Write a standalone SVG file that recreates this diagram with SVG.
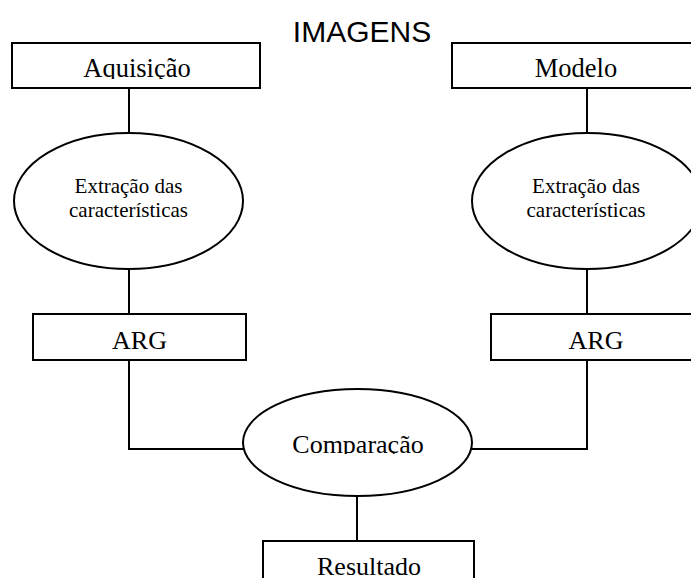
<svg xmlns="http://www.w3.org/2000/svg" width="691" height="578" viewBox="0 0 691 578">
<style>
.box{fill:#fff;stroke:#000;stroke-width:2}
.ell{fill:#fff;stroke:#000;stroke-width:2}
.ln{fill:none;stroke:#000;stroke-width:2}
.t{font-family:"Liberation Serif","Times New Roman",serif;fill:#000;text-anchor:middle}
.h{font-family:"Liberation Sans",Arial,sans-serif;fill:#000;text-anchor:middle}
</style>
<defs>
<clipPath id="clipAq"><rect x="0" y="40" width="300" height="39"/></clipPath>
<clipPath id="clipCo"><rect x="240" y="400" width="240" height="54"/></clipPath>
</defs>
<rect width="691" height="578" fill="#fff"/>
<g id="connectors">
<line class="ln" x1="129" y1="88" x2="129" y2="133"/>
<line class="ln" x1="587" y1="88" x2="587" y2="133"/>
<line class="ln" x1="129" y1="269" x2="129" y2="314"/>
<line class="ln" x1="587" y1="269" x2="587" y2="314"/>
<polyline class="ln" points="129,360 129,449 244,449"/>
<polyline class="ln" points="587,360 587,449 472,449"/>
<line class="ln" x1="357" y1="496" x2="357" y2="541"/>
</g>
<g id="title"><text class="h" x="362" y="42" font-size="30">IMAGENS</text></g>
<g id="aquisicao">
<rect class="box" x="12" y="43" width="248" height="45"/>
<text class="t" x="137" y="77" font-size="26.5" clip-path="url(#clipAq)">Aquisição</text>
</g>
<g id="modelo">
<rect class="box" x="452" y="43" width="250" height="45"/>
<text class="t" x="576" y="77" font-size="26.5">Modelo</text>
</g>
<g id="extracao1">
<ellipse class="ell" cx="128.5" cy="201" rx="114.5" ry="68"/>
<text class="t" x="128.5" y="193" font-size="21">Extração das</text>
<text class="t" x="128.5" y="217" font-size="21">características</text>
</g>
<g id="extracao2">
<ellipse class="ell" cx="587" cy="201" rx="115" ry="68"/>
<text class="t" x="586" y="193" font-size="21">Extração das</text>
<text class="t" x="586" y="217" font-size="21">características</text>
</g>
<g id="arg1">
<rect class="box" x="33" y="314" width="213" height="46"/>
<text class="t" x="139.5" y="349" font-size="26">ARG</text>
</g>
<g id="arg2">
<rect class="box" x="491" y="314" width="212" height="46"/>
<text class="t" x="596" y="349" font-size="26">ARG</text>
</g>
<g id="comparacao">
<ellipse class="ell" cx="357.5" cy="442.5" rx="114.5" ry="53.5"/>
<text class="t" x="358" y="453" font-size="26" clip-path="url(#clipCo)">Comparação</text>
</g>
<g id="resultado">
<rect class="box" x="263" y="541" width="211" height="45"/>
<text class="t" x="369" y="575" font-size="26">Resultado</text>
</g>
</svg>
